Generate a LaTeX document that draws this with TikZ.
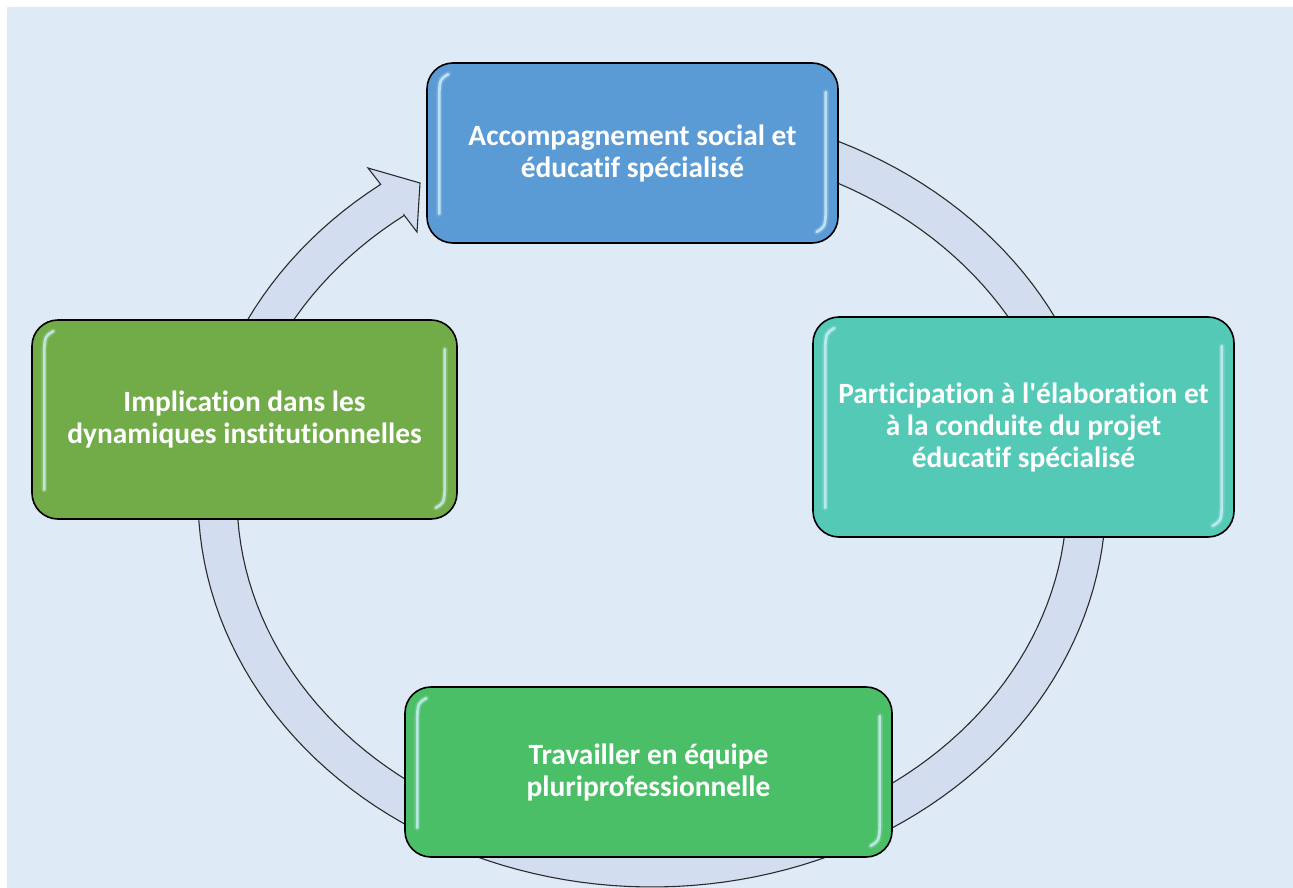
\documentclass[tikz,border=0pt]{standalone}
\usepackage{fontspec}
\newfontfamily\boxfont{Carlito}[Ligatures={NoCommon}]
\definecolor{bgcol}{HTML}{DEEAF6}
\definecolor{ringfill}{HTML}{D2DEEF}
\definecolor{ringline}{HTML}{2B2B2B}
\definecolor{cblue}{HTML}{5B9BD5}
\definecolor{cteal}{HTML}{53C9B6}
\definecolor{cgreen}{HTML}{4BBF68}
\definecolor{colive}{HTML}{71AC48}
\tikzset{
  stagebox/.style={draw=black, line width=1.6pt, rounded corners=26pt,
    text=white, align=center,
    font=\boxfont\bfseries\fontsize{29.4}{32}\selectfont},
  hlglow/.style={draw=white, line width=6pt, opacity=0.15, line cap=round},
  hlline/.style={draw=white!80!cyan, line width=2.8pt, opacity=0.8, line cap=round},
}
\begin{document}
\begin{tikzpicture}[x=1pt,y=-1pt]
\useasboundingbox (0,0) rectangle (1293,888);
\fill[bgcol] (7,7) rectangle (1293,888);
% cycle arrow
\filldraw[fill=ringfill, draw=ringline, line width=1.1pt, line join=miter]
  plot[domain=0:323.3, samples=160] ({652+454*cos(90-\x)},{497-390*sin(90-\x)})
  -- (368,168) -- (420,183) -- (417,232) -- (404,215)
  -- plot[domain=0:323.3, samples=160] ({652+415*cos(-233.3+\x)},{497-351*sin(-233.3+\x)})
  -- cycle;
% stages
\node[stagebox, fill=cblue, minimum width=411pt, minimum height=180pt] (acc) at (632.5,153)
  {Accompagnement social et\\éducatif spécialisé};
\node[stagebox, fill=cteal, minimum width=421pt, minimum height=220pt] (part) at (1023.5,427)
  {Participation à l'élaboration et\\à la conduite du projet\\éducatif spécialisé};
\node[stagebox, fill=cgreen, minimum width=487pt, minimum height=170pt] (trav) at (648.5,772)
  {Travailler en équipe\\pluriprofessionnelle};
\node[stagebox, fill=colive, minimum width=425pt, minimum height=199pt] (impl) at (244.5,419.5)
  {Implication dans les\\dynamiques institutionnelles};
% glossy highlights
\foreach \n in {acc,part,trav,impl}{
  \foreach \s in {hlglow,hlline}{
    \draw[\s] ([xshift=22pt,yshift=-12pt]\n.north west)
      .. controls ([xshift=14pt,yshift=-17pt]\n.north west) .. ([xshift=13pt,yshift=-30pt]\n.north west)
      -- ([xshift=13pt,yshift=30pt]\n.south west);
    \draw[\s] ([xshift=-13pt,yshift=-30pt]\n.north east)
      -- ([xshift=-13pt,yshift=30pt]\n.south east)
      .. controls ([xshift=-14pt,yshift=17pt]\n.south east) .. ([xshift=-22pt,yshift=12pt]\n.south east);
  }
}
\end{tikzpicture}
\end{document}
